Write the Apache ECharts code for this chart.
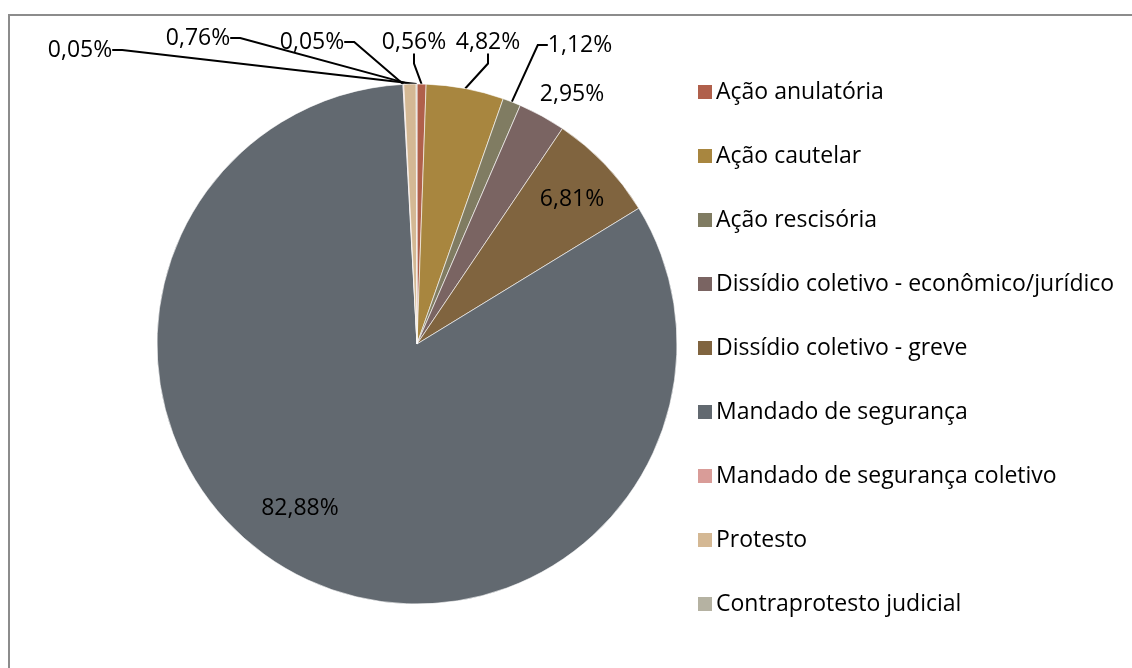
<!DOCTYPE html>
<html>
<head>
<meta charset="utf-8">
<script src="https://cdn.jsdelivr.net/npm/echarts@6/dist/echarts.min.js"></script>
<style>html,body{margin:0;padding:0;background:#fff}#c{width:1132px;height:668px}</style>
</head>
<body>
<div id="c"></div>
<script>
const categories = ['Ação anulatória','Ação cautelar','Ação rescisória','Dissídio coletivo - econômico/jurídico','Dissídio coletivo - greve','Mandado de segurança','Mandado de segurança coletivo','Protesto','Contraprotesto judicial'];
const values = [0.56, 4.82, 1.12, 2.95, 6.81, 82.88, 0.05, 0.76, 0.05];
const colors = ['#B0604B','#A8863F','#807C62','#7A6462','#80643F','#626970','#D99C98','#D4B894','#B5B2A2'];

// label placement (text centres), not data
const labelPos = {
  0:[414,42], 1:[488,42], 2:[580,45], 3:[572,94], 4:[572,199], 5:[300,508],
  6:[312,42], 7:[198,38], 8:[80,50]
};
const insideIdx = [4,5];
const noLineIdx = [3];

const chart = echarts.init(document.getElementById('c'));
const FONT = '"Open Sans", sans-serif';
chart.setOption({
  animation:false,
  color: colors,
  graphic:[{type:'rect',shape:{x:9,y:15,width:1140,height:670},style:{fill:null,stroke:'#8c8c8c',lineWidth:2},silent:true}],
  legend:{
    orient:'vertical', left:691, top:74,
    icon:'rect', itemWidth:16, itemHeight:16, itemGap:38,
    textStyle:{fontFamily:FONT,fontSize:23,color:'#000',lineHeight:26,padding:[0,0,0,-2]},
    data: categories
  },
  series:[{
    type:'pie',
    center:[417,344], radius:260,
    startAngle:90, clockwise:true,
    avoidLabelOverlap:false,
    itemStyle:{borderColor:'#ffffff',borderWidth:0.6},
    label:{show:true,position:'outside',fontFamily:FONT,fontSize:23,color:'#000',padding:[4,7],
      formatter: p => p.value.toFixed(2).replace('.',',')+'%'},
    labelLine:{show:true,length:10,length2:10,smooth:false,lineStyle:{color:'#000',width:2}},
    labelLayout: function(p){
      const pos = labelPos[p.dataIndex];
      return {x:pos[0], y:pos[1], align:'center', verticalAlign:'middle'};
    },
    data: categories.map((n,i)=>{
      const d = {name:n, value:values[i]};
      if (insideIdx.includes(i)) { d.label={position:'inside'}; d.labelLine={show:false}; }
      if (noLineIdx.includes(i)) { d.labelLine={show:false}; }
      return d;
    })
  }]
});
</script>
</body>
</html>
